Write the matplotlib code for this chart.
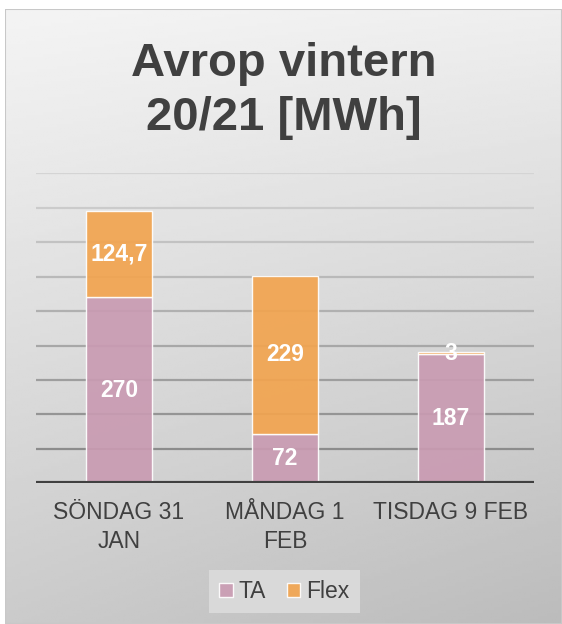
import numpy as np
import matplotlib.pyplot as plt
from matplotlib.patches import Rectangle

plt.rcParams['font.family'] = ['Liberation Sans', 'DejaVu Sans']

# data
days = ['SÖNDAG 31\nJAN', 'MÅNDAG 1\nFEB', 'TISDAG 9 FEB']
ta = [270, 72, 187]
flex = [124.7, 229, 3]
seriesNames = ['TA', 'Flex']

textColor = '#404040'
taColor = '#c99bb2'
flexColor = '#f2a44f'

def FormatValue(v):
    if float(v).is_integer():
        return str(int(v))
    return str(v).replace('.', ',')

fig = plt.figure(figsize=(5.62, 6.24), dpi=100)
fig.patch.set_facecolor('white')

# gray gradient background of the chart area
bg = fig.add_axes([5/562, 0, 557/562, 615/624], zorder=-10)
yy, xx = np.mgrid[0:1:200j, 0:1:200j]
shade = 0.955 - 0.16*yy - 0.04*xx*yy - 0.02*xx
bg.imshow(shade, cmap='gray', vmin=0, vmax=1, aspect='auto', extent=[0, 1, 0, 1], origin='upper')
bg.add_patch(Rectangle((0, 0), 1, 1, transform=bg.transAxes, fill=False, edgecolor='#c8c8c8', lw=1.5))
bg.axis('off')

ax = fig.add_axes([36/562, 1 - 483.3/624, 498/562, 310/624])
ax.set_facecolor('none')

x = np.arange(len(days))
barWidth = 0.4

# gridlines, lighter at the top
gridValues = np.arange(50, 451, 50)
for i, g in enumerate(gridValues):
    t = i/(len(gridValues) - 1)
    c = 0.55 + 0.28*t
    ax.axhline(g, color=(c, c, c), lw=1.6, zorder=0)

edge = (1, 1, 1, 0.6)
bTA = ax.bar(x, ta, barWidth, color=taColor, alpha=0.92, edgecolor=edge, lw=1, zorder=2, label=seriesNames[0])
bFlex = ax.bar(x, flex, barWidth, bottom=ta, color=flexColor, alpha=0.92, edgecolor=edge, lw=1, zorder=2, label=seriesNames[1])

for i in range(len(days)):
    ax.text(x[i], ta[i]/2, FormatValue(ta[i]), ha='center', va='center', color='white',
            fontsize=16.5, fontweight='bold', zorder=3)
    ax.text(x[i], ta[i] + flex[i]/2, FormatValue(flex[i]), ha='center', va='center', color='white',
            fontsize=16.5, fontweight='bold', zorder=3)

ax.set_xlim(-0.5, len(days) - 0.5)
ax.set_ylim(0, 450)
ax.axhline(0, color=textColor, lw=3, zorder=4)
for s in ax.spines.values():
    s.set_visible(False)
ax.set_yticks([])
ax.set_xticks(x)
ax.set_xticklabels(days, fontsize=16.5, color=textColor, linespacing=1.34)
ax.tick_params(axis='x', length=0, pad=12.5)

fig.text(0.505, 1 - 130/624, 'Avrop vintern\n20/21 [MWh]', ha='center', va='baseline',
         fontsize=34, fontweight='bold', color=textColor, linespacing=1.3)

leg = fig.legend(handles=[bTA, bFlex], labels=seriesNames, loc='center', bbox_to_anchor=(0.506, 1 - 591.5/624),
                 ncol=2, frameon=True, fancybox=False, fontsize=16.5, handlelength=0.6, handleheight=0.6,
                 handletextpad=0.25, columnspacing=0.9, borderpad=0.45, labelcolor=textColor)
leg.get_frame().set_facecolor('#d9d9d9')
leg.get_frame().set_edgecolor('none')
leg.get_frame().set_alpha(1)

plt.savefig('out.png', dpi=100)
